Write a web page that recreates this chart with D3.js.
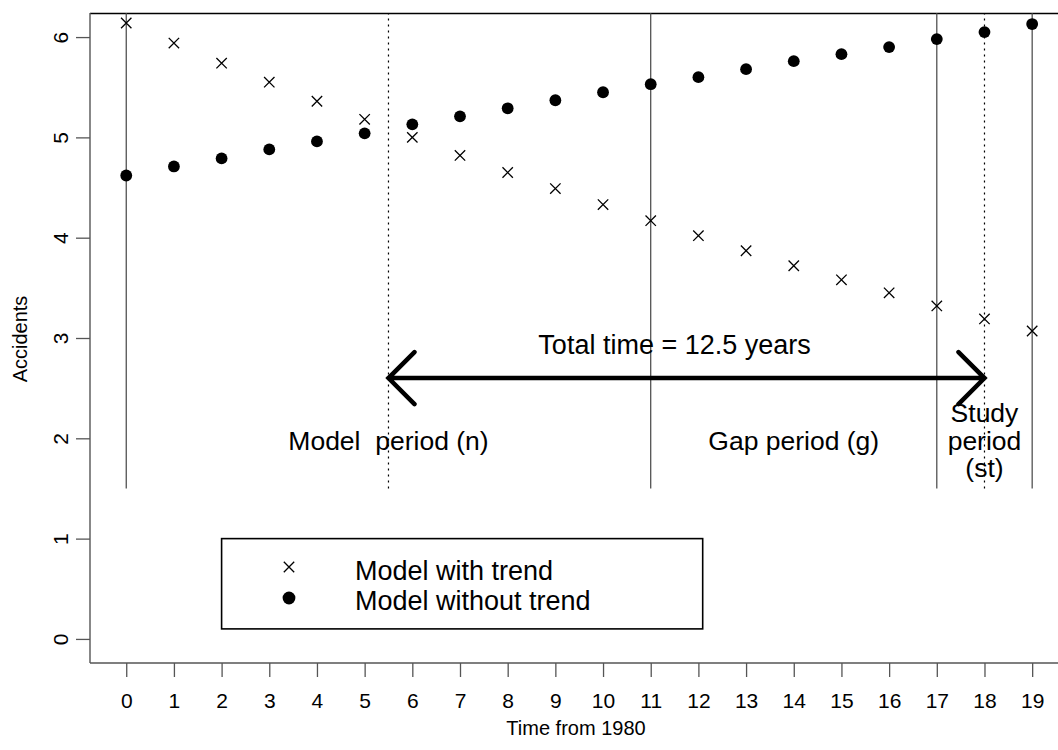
<!DOCTYPE html>
<html>
<head>
<meta charset="utf-8">
<script src="https://cdn.jsdelivr.net/npm/d3@7"></script>
<style>
  html, body { margin: 0; padding: 0; background: #fff; }
  svg { display: block; font-family: "Liberation Sans", Arial, Helvetica, sans-serif; }
</style>
</head>
<body>
<svg id="chart" width="1058" height="750"></svg>
<script>
// ---- data ----
const years = [0,1,2,3,4,5,6,7,8,9,10,11,12,13,14,15,16,17,18,19];
const withTrend = [6.14,5.94,5.74,5.55,5.36,5.18,5.00,4.82,4.65,4.49,4.33,4.17,4.02,3.87,3.72,3.58,3.45,3.32,3.19,3.07];
const withoutTrend = [4.62,4.71,4.79,4.88,4.96,5.04,5.13,5.21,5.29,5.37,5.45,5.53,5.60,5.68,5.76,5.83,5.90,5.98,6.05,6.13];
const xTicks = years;
const yTicks = [0,1,2,3,4,5,6];
const solidLines = [0, 11, 17, 19];
const dottedLines = [5.5, 18];
const lineBottom = 1.5;
const arrowY = 2.6, arrowFrom = 5.5, arrowTo = 18;
const periodLabels = [
  {x: 5.5, y: 1.98, lines: ["Model\u00a0\u00a0period (n)"]},
  {x: 14, y: 1.98, lines: ["Gap period (g)"]},
  {x: 18, y: 1.98, lines: ["Study", "period", "(st)"]}
];
const totalLabel = {x: 11.5, y: 2.94, text: "Total time = 12.5 years"};
const legendItems = ["Model with trend", "Model without trend"];
const legendBox = {x0: 2, y0: 1, x1: 12.09, y1: 0.1};

// ---- scales ----
const svg = d3.select("#chart");
const x = d3.scaleLinear().domain([-0.76, 19.76]).range([90, 1068.4]);
const y = d3.scaleLinear().domain([-0.24, 6.24]).range([663, 13]);

const grey = "#555";

// plot box
svg.append("line").attr("x1", 90).attr("x2", 1068).attr("y1", 13.5).attr("y2", 13.5).attr("stroke", "#000").attr("stroke-width", 1.3);
svg.append("line").attr("x1", 90).attr("x2", 90).attr("y1", 13).attr("y2", 663).attr("stroke", grey).attr("stroke-width", 1.4);
svg.append("line").attr("x1", 90).attr("x2", 1068).attr("y1", 663).attr("y2", 663).attr("stroke", grey).attr("stroke-width", 1.4);

// x axis
const xAxis = svg.append("g").attr("transform", "translate(0,663)")
  .call(d3.axisBottom(x).tickValues(xTicks).tickSize(14).tickPadding(16).tickFormat(d3.format("d")));
xAxis.select(".domain").remove();
xAxis.selectAll(".tick line").attr("stroke", grey).attr("stroke-width", 1.3);
xAxis.selectAll(".tick text").attr("font-size", 21).attr("fill", "#000")
  .attr("font-family", "Liberation Sans, Arial, sans-serif");

// y axis
const yAxis = svg.append("g").attr("transform", "translate(90,0)")
  .call(d3.axisLeft(y).tickValues(yTicks).tickSize(14).tickFormat(d3.format("d")));
yAxis.select(".domain").remove();
yAxis.selectAll(".tick line").attr("stroke", grey).attr("stroke-width", 1.3);
yAxis.selectAll(".tick text")
  .attr("x", null).attr("dy", null)
  .attr("transform", "translate(-22,0) rotate(-90)")
  .attr("text-anchor", "middle")
  .attr("font-size", 21).attr("fill", "#000")
  .attr("font-family", "Liberation Sans, Arial, sans-serif");

// axis titles
svg.append("text").attr("x", 576).attr("y", 735).attr("text-anchor", "middle")
  .attr("font-size", 20).text("Time from 1980");
svg.append("text").attr("transform", "translate(27,339) rotate(-90)").attr("text-anchor", "middle")
  .attr("font-size", 20).text("Accidents");

// vertical period lines
svg.append("g").selectAll("line").data(solidLines).join("line")
  .attr("x1", d => x(d)).attr("x2", d => x(d))
  .attr("y1", y(lineBottom)).attr("y2", 13)
  .attr("stroke", "#444").attr("stroke-width", 1.2);
svg.append("g").selectAll("line").data(dottedLines).join("line")
  .attr("x1", d => x(d)).attr("x2", d => x(d))
  .attr("y1", y(lineBottom)).attr("y2", 13)
  .attr("stroke", "#000").attr("stroke-width", 1.2).attr("stroke-dasharray", "2,4");

// points: crosses
const cs = 5.2;
svg.append("g").selectAll("path").data(years).join("path")
  .attr("d", (d, i) => {
    const cx = x(d), cy = y(withTrend[i]);
    return `M${cx-cs},${cy-cs}L${cx+cs},${cy+cs}M${cx-cs},${cy+cs}L${cx+cs},${cy-cs}`;
  })
  .attr("stroke", "#000").attr("stroke-width", 1.3).attr("fill", "none");
// points: dots
svg.append("g").selectAll("circle").data(years).join("circle")
  .attr("cx", d => x(d)).attr("cy", (d, i) => y(withoutTrend[i]))
  .attr("r", 5.9).attr("fill", "#000");

// arrow
const ay = y(arrowY), ax0 = x(arrowFrom), ax1 = x(arrowTo), ah = 26;
svg.append("path")
  .attr("d", `M${ax0},${ay}L${ax1},${ay}M${ax0+ah},${ay-ah}L${ax0},${ay}L${ax0+ah},${ay+ah}M${ax1-ah},${ay-ah}L${ax1},${ay}L${ax1-ah},${ay+ah}`)
  .attr("stroke", "#000").attr("stroke-width", 4.5).attr("fill", "none")
  .attr("stroke-linecap", "round").attr("stroke-linejoin", "miter");

// labels
svg.append("text").attr("x", x(totalLabel.x)).attr("y", y(totalLabel.y)).attr("dy", "0.36em")
  .attr("text-anchor", "middle").attr("font-size", 27).text(totalLabel.text);

periodLabels.forEach(p => {
  const n = p.lines.length, lh = 27.5;
  const cy = y(p.y);
  p.lines.forEach((t, k) => {
    svg.append("text").attr("x", x(p.x)).attr("y", cy + (k - (n - 1) / 2) * lh).attr("dy", "0.36em")
      .attr("text-anchor", "middle").attr("font-size", 26.5).text(t);
  });
});

// legend
const lb = svg.append("g");
lb.append("rect").attr("x", x(legendBox.x0)).attr("y", y(legendBox.y0))
  .attr("width", x(legendBox.x1) - x(legendBox.x0)).attr("height", y(legendBox.y1) - y(legendBox.y0))
  .attr("fill", "none").attr("stroke", "#000").attr("stroke-width", 1.6);
const rowY = [570, 600];
const symY = [567, 598];
const symX = 289, txtX = 355;
legendItems.forEach((t, i) => {
  const cy = rowY[i];
  if (i === 0) {
    lb.append("path").attr("d", `M${symX-cs},${symY[i]-cs}L${symX+cs},${symY[i]+cs}M${symX-cs},${symY[i]+cs}L${symX+cs},${symY[i]-cs}`)
      .attr("stroke", "#000").attr("stroke-width", 1.3);
  } else {
    lb.append("circle").attr("cx", symX).attr("cy", symY[i]).attr("r", 6.4).attr("fill", "#000");
  }
  lb.append("text").attr("x", txtX).attr("y", cy).attr("dy", "0.36em").attr("font-size", 27).text(t);
});
</script>
</body>
</html>
